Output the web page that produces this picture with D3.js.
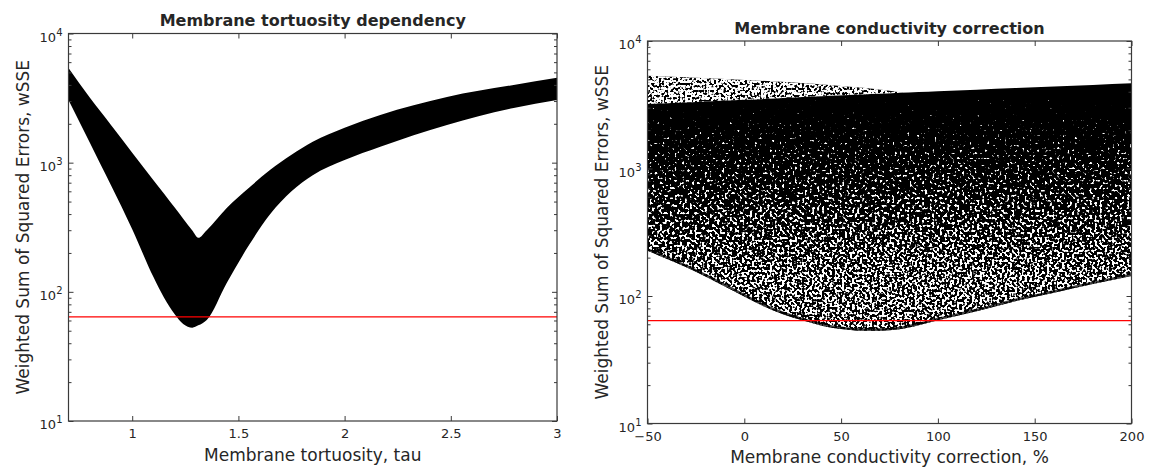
<!DOCTYPE html>
<html lang="en">
<head>
<meta charset="UTF-8"/>
<title>wSSE parameter sweep</title>
<script src="https://d3js.org/d3.v7.min.js"></script>
<style>
  body { margin: 0; background: #fff; }
  text { font-family: "DejaVu Sans", sans-serif; fill: #262626; }
</style>
</head>
<body>
<div id="chart"></div>
<script>
// ---- data ----
// left: envelope of the wSSE point cloud against tortuosity
var tauX     = [0.7, 0.8, 0.85, 0.9, 1.0, 1.1, 1.15, 1.2, 1.24, 1.283, 1.311, 1.351, 1.445, 1.55, 1.65, 1.75, 1.85, 2.0, 2.168, 2.482, 2.796, 3.0];
var tauUpper = [5400, 3200, 2500, 1960, 1195, 732, 575, 449, 368, 298, 262, 300, 446, 640, 880, 1150, 1450, 1860, 2340, 3225, 3995, 4550];
var tauLower = [3060, 1430, 975, 668, 305, 130, 90, 67, 56.4, 52.8, 55, 60.6, 117, 230, 400, 600, 800, 1050, 1330, 1958, 2651, 3060];

// right: dense body of the cloud against conductivity correction
var corrX     = [-50, -25, 0, 10, 20, 30, 40, 50, 60, 70, 80, 90, 100, 120, 140, 160, 180, 200];
var corrUpper = [3206, 3330, 3460, 3510, 3570, 3630, 3690, 3750, 3810, 3860, 3920, 3975, 4030, 4150, 4270, 4390, 4520, 4660];
var corrLower = [226, 155, 99, 83, 72, 64.5, 58.5, 55, 53.5, 53.5, 54.8, 59, 64.5, 76, 91, 106, 124, 143.6];

// right: thin scattered layer sitting on top of the dense body
var sparseX     = [-50, -25, 0, 25, 50, 75, 82];
var sparseUpper = [5350, 5150, 4950, 4720, 4440, 4075, 3930];
var sparseLower = [3206, 3330, 3460, 3600, 3750, 3890, 3930];

var wsseLimit = 64;

var tauTicks  = [1, 1.5, 2, 2.5, 3];
var corrTicks = [-50, 0, 50, 100, 150, 200];
var decades   = [1, 2, 3, 4];

var yLabel = "Weighted Sum of Squared Errors, wSSE";

// ---- drawing ----
var w = 1151, h = 468;

var svg = d3.select("#chart")
            .append("svg")
            .attr("width", w)
            .attr("height", h);

var defs = svg.append("defs");

// white noise layer, alpha = gain * noise + bias
function noise(id, freq, gain, bias, seed) {
    var f = defs.append("filter")
                .attr("id", id)
                .attr("color-interpolation-filters", "sRGB")
                .attr("x", 0).attr("y", 0).attr("width", 1).attr("height", 1);
    f.append("feTurbulence")
        .attr("type", "fractalNoise")
        .attr("baseFrequency", freq)
        .attr("numOctaves", 1)
        .attr("seed", seed);
    f.append("feColorMatrix")
        .attr("type", "matrix")
        .attr("values", "0 0 0 0 1  0 0 0 0 1  0 0 0 0 1  " + gain + " 0 0 0 " + bias);
}
noise("noiseDense", 0.4, 1.6, -0.3, 3);
noise("speckleSparse", 0.42, 14, -6.0, 11);

// hard cut so the faded noise turns into clean white holes
var cut = defs.append("filter")
              .attr("id", "cut")
              .attr("color-interpolation-filters", "sRGB");
cut.append("feComponentTransfer")
    .append("feFuncA")
    .attr("type", "linear")
    .attr("slope", 12)
    .attr("intercept", -12 * 0.48);

var minorTicks = [];
decades.slice(0, -1).forEach(function(e) {
    for (var k = 2; k <= 9; k++) minorTicks.push(k * Math.pow(10, e));
});
var majorTicks = decades.map(function(e) { return Math.pow(10, e); });

function drawPanel(p) {
    var x = d3.scaleLinear().domain(p.xDomain).range([p.left, p.right]);
    var y = d3.scaleLog().domain([10, 10000]).range([p.bottom, p.top]);

    defs.append("clipPath").attr("id", p.id + "-clip")
        .append("rect")
        .attr("x", p.left).attr("y", p.top)
        .attr("width", p.right - p.left).attr("height", p.bottom - p.top);

    var plot = svg.append("g").attr("clip-path", "url(#" + p.id + "-clip)");
    p.marks(plot, x, y);

    // reference wSSE level
    plot.append("line")
        .attr("x1", p.left).attr("x2", p.right)
        .attr("y1", y(wsseLimit)).attr("y2", y(wsseLimit))
        .attr("stroke", "#ff0000")
        .attr("stroke-width", 1.3);

    // axes, matlab style: inward ticks on all four sides
    var axes = [
        d3.axisBottom(x).tickValues(p.xTicks).tickSizeInner(-5).tickPadding(8).tickFormat(p.xFormat),
        d3.axisTop(x).tickValues(p.xTicks).tickSizeInner(-5).tickFormat(""),
        d3.axisLeft(y).tickValues(majorTicks).tickSizeInner(-5).tickFormat(""),
        d3.axisLeft(y).tickValues(minorTicks).tickSizeInner(-3).tickFormat(""),
        d3.axisRight(y).tickValues(majorTicks).tickSizeInner(-5).tickFormat(""),
        d3.axisRight(y).tickValues(minorTicks).tickSizeInner(-3).tickFormat("")
    ];
    var shift = [
        [0, p.bottom], [0, p.top], [p.left, 0], [p.left, 0], [p.right, 0], [p.right, 0]
    ];
    axes.forEach(function(a, i) {
        var g = svg.append("g")
                   .attr("transform", "translate(" + shift[i][0] + "," + shift[i][1] + ")")
                   .call(a.tickSizeOuter(0));
        g.select(".domain").remove();
        g.selectAll(".tick line").attr("stroke", "#3a3a3a").attr("stroke-width", 1);
        g.selectAll(".tick text")
            .attr("font-family", "DejaVu Sans, sans-serif")
            .attr("font-size", 13)
            .attr("fill", "#262626");
    });

    svg.append("rect")
        .attr("x", p.left).attr("y", p.top)
        .attr("width", p.right - p.left).attr("height", p.bottom - p.top)
        .attr("fill", "none")
        .attr("stroke", "#3a3a3a")
        .attr("stroke-width", 1.2);

    // 10^n labels
    var yl = svg.append("g").selectAll("text")
                .data(decades)
                .enter()
                .append("text")
                .attr("x", p.left - 6)
                .attr("y", function(d) { return y(Math.pow(10, d)) + 8; })
                .attr("text-anchor", "end")
                .attr("font-size", 13);
    yl.append("tspan").text("10");
    yl.append("tspan")
        .attr("dy", -6)
        .attr("font-size", 10)
        .text(function(d) { return d; });

    svg.append("text")
        .attr("x", (p.left + p.right) / 2)
        .attr("y", p.top - 7.5)
        .attr("text-anchor", "middle")
        .attr("font-size", 16)
        .attr("font-weight", "bold")
        .attr("fill", "#000")
        .text(p.title);

    svg.append("text")
        .attr("x", (p.left + p.right) / 2)
        .attr("y", p.bottom + 39.5)
        .attr("text-anchor", "middle")
        .attr("font-size", 17)
        .text(p.xLabel);

    svg.append("text")
        .attr("transform", "translate(" + (p.left - 40) + "," + ((p.top + p.bottom) / 2) + ") rotate(-90)")
        .attr("text-anchor", "middle")
        .attr("font-size", 17)
        .text(yLabel);
}

function band(xs, lo, hi, x, y) {
    return d3.area()
             .x(function(i) { return x(xs[i]); })
             .y0(function(i) { return y(lo[i]); })
             .y1(function(i) { return y(hi[i]); })
             .curve(d3.curveMonotoneX)(d3.range(xs.length));
}

drawPanel({
    id: "tau",
    left: 68.5, right: 557, top: 33.5, bottom: 421,
    xDomain: [0.7, 3],
    xTicks: tauTicks,
    xFormat: function(d) { return String(d); },
    title: "Membrane tortuosity dependency",
    xLabel: "Membrane tortuosity, tau",
    marks: function(g, x, y) {
        g.append("path")
            .attr("d", band(tauX, tauLower, tauUpper, x, y))
            .attr("fill", "#000");
    }
});

drawPanel({
    id: "corr",
    left: 647.5, right: 1131.5, top: 41, bottom: 423.5,
    xDomain: [-50, 200],
    xTicks: corrTicks,
    xFormat: d3.format(""),
    title: "Membrane conductivity correction",
    xLabel: "Membrane conductivity correction, %",
    marks: function(g, x, y) {
        var dense = band(corrX, corrLower, corrUpper, x, y);
        var sparse = band(sparseX, sparseLower, sparseUpper, x, y);

        g.append("path").attr("d", sparse).attr("fill", "#000");
        g.append("path").attr("d", dense).attr("fill", "#000");

        defs.append("clipPath").attr("id", "sparse-clip").append("path").attr("d", sparse);
        defs.append("clipPath").attr("id", "dense-clip").append("path").attr("d", dense);

        // holes get more frequent towards the bottom of the dense body
        var grad = defs.append("linearGradient")
                       .attr("id", "fade")
                       .attr("gradientUnits", "userSpaceOnUse")
                       .attr("x1", 0).attr("x2", 0)
                       .attr("y1", y(4000)).attr("y2", y(130));
        grad.append("stop").attr("offset", 0).attr("stop-color", "#808080");
        grad.append("stop").attr("offset", 1).attr("stop-color", "#fff");
        defs.append("mask")
            .attr("id", "fade-mask")
            .attr("maskUnits", "userSpaceOnUse")
            .attr("x", 0).attr("y", 0).attr("width", w).attr("height", h)
            .append("rect")
            .attr("x", 0).attr("y", 0).attr("width", w).attr("height", h)
            .attr("fill", "url(#fade)");

        var inside = g.append("g").attr("clip-path", "url(#dense-clip)");
        inside.append("g").attr("filter", "url(#cut)")
            .append("g").attr("mask", "url(#fade-mask)")
            .append("rect")
            .attr("x", x(-50)).attr("y", y(10000))
            .attr("width", x(200) - x(-50)).attr("height", y(10) - y(10000))
            .attr("filter", "url(#noiseDense)");

        // lower rim of the cloud is packed tighter (only the inner half shows)
        inside.append("path")
            .attr("d", d3.line()
                         .x(function(i) { return x(corrX[i]); })
                         .y(function(i) { return y(corrLower[i]); })
                         .curve(d3.curveMonotoneX)(d3.range(corrX.length)))
            .attr("fill", "none")
            .attr("stroke", "#000")
            .attr("stroke-opacity", 0.75)
            .attr("stroke-width", 5);

        g.append("g").attr("clip-path", "url(#sparse-clip)")
            .append("rect")
            .attr("x", x(-50)).attr("y", y(10000))
            .attr("width", x(200) - x(-50)).attr("height", y(1000) - y(10000))
            .attr("filter", "url(#speckleSparse)");
    }
});
</script>
</body>
</html>
